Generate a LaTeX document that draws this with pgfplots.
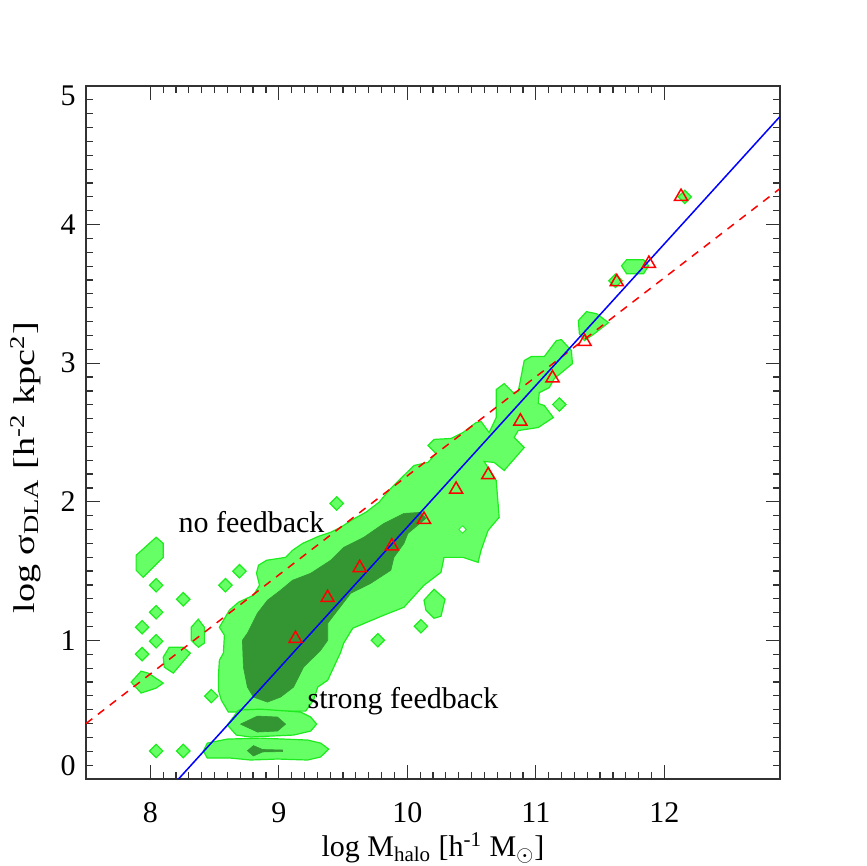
\documentclass[border=0pt]{standalone}
\usepackage{fontspec}
\setmainfont{Liberation Serif}
\usepackage{pgfplots}
\pgfplotsset{compat=1.18}

\definecolor{lgreen}{RGB}{102,255,102}
\definecolor{egreen}{RGB}{30,235,30}
\definecolor{dgreen}{RGB}{51,150,51}
\definecolor{frame}{RGB}{50,50,50}

\pgfplotsset{
  lightc/.style={fill=lgreen, draw=egreen, line width=0.6pt},
  darkc/.style={fill=dgreen, draw=dgreen, line width=0.3pt},
  blob/.style={only marks, mark=square*, mark size=2.37pt,
    mark options={rotate=45, fill=lgreen, draw=egreen, line width=0.6pt}},
}

\begin{document}
\fontsize{15}{18}\selectfont
\begin{tikzpicture}
\path[use as bounding box] (-43pt,-43.5pt) rectangle (390pt,389.5pt);
\begin{axis}[
    scale only axis,
    width=347pt, height=346.5pt,
    xmin=7.5, xmax=12.9,
    ymin=0, ymax=5,
    xtick={8,9,10,11,12},
    ytick={0,1,2,3,4,5},
    yticklabels={\raisebox{6.5pt}[\height][\depth]{0},1,2,3,4,\raisebox{-5pt}[\height][\depth]{5}},
    minor x tick num=9,
    minor y tick num=9,
    tick align=inside,
    tick pos=both,
    xticklabel pos=lower,
    yticklabel pos=left,
    major tick length=7pt,
    minor tick length=3.5pt,
    axis line style={frame, line width=0.7pt},
    tick style={frame, line width=0.6pt},
    /pgf/number format/assume math mode=true,
    xticklabel style={anchor=base, yshift=-21.5pt},
    xlabel={log M\textsubscript{halo} [h\textsuperscript{-1} M\textsubscript{$\odot$}]},
    xlabel style={at={(axis description cs:0.5,0)}, anchor=base, yshift=-38.9pt},
    ylabel={\scalebox{1.27}[1]{log σ\textsubscript{DLA} [h\textsuperscript{-2} kpc\textsuperscript{2}]}},
    ylabel style={at={(axis description cs:-0.087,0.449)}, anchor=center},
]
% outer contour level: main ridge
\addplot[lightc] coordinates {
 (8.608,0.483) (8.553,0.569) (8.530,0.641) (8.530,0.735) (8.538,0.857)
 (8.569,0.908) (8.577,1.037) (8.538,1.095) (8.616,1.218) (8.686,1.275)
 (8.803,1.326) (8.850,1.398) (8.827,1.484) (8.842,1.542) (8.905,1.578)
 (9.053,1.599) (9.107,1.650) (9.186,1.700) (9.310,1.751) (9.404,1.780)
 (9.482,1.816) (9.576,1.873) (9.677,1.924) (9.779,1.996) (9.872,2.097)
 (10.052,2.262) (10.161,2.284) (10.223,2.349) (10.161,2.406) (10.208,2.450)
 (10.340,2.457) (10.434,2.500) (10.535,2.572) (10.574,2.579) (10.637,2.500)
 (10.692,2.608) (10.692,2.810) (10.754,2.853) (10.824,2.788) (10.863,2.795)
 (10.910,3.019) (10.965,3.048) (11.066,3.048) (11.160,3.163) (11.199,3.170)
 (11.277,3.091) (11.285,2.997) (11.144,2.889) (11.105,2.824) (11.027,2.788)
 (11.019,2.709) (11.066,2.695) (11.136,2.608) (11.019,2.536) (10.863,2.514)
 (10.832,2.464) (10.910,2.392) (10.754,2.226) (10.676,2.284) (10.598,2.291)
 (10.692,2.154) (10.715,1.888) (10.629,1.794) (10.574,1.650) (10.551,1.563)
 (10.434,1.599) (10.286,1.599) (10.262,1.491) (10.130,1.398) (9.974,1.239)
 (9.818,1.182) (9.576,1.088) (9.505,0.980) (9.482,0.915) (9.381,0.713)
 (9.303,0.663) (9.271,0.569) (9.209,0.490)
} -- cycle;
% low bands
\addplot[lightc] coordinates {
 (8.600,0.389) (8.686,0.497) (8.858,0.504) (9.170,0.483) (9.248,0.447)
 (9.295,0.396) (9.248,0.346) (9.115,0.317) (8.780,0.303) (8.670,0.317)
} -- cycle;
\addplot[lightc] coordinates {
 (8.413,0.202) (8.444,0.259) (8.600,0.288) (8.858,0.295) (9.225,0.281)
 (9.326,0.259) (9.388,0.216) (9.326,0.159) (9.225,0.137) (8.990,0.144)
 (8.780,0.137) (8.624,0.151) (8.444,0.151)
} -- cycle;
% isolated patches
\addplot[lightc] coordinates {
 (7.890,1.614) (8.046,1.744) (8.101,1.700) (8.101,1.599) (7.945,1.455) (7.890,1.506)
} -- cycle;
\addplot[lightc] coordinates {
 (8.319,1.095) (8.374,1.153) (8.421,1.095) (8.421,0.980) (8.374,0.951) (8.319,1.001)
} -- cycle;
\addplot[lightc] coordinates {
 (8.101,0.879) (8.148,0.951) (8.257,0.951) (8.312,0.908) (8.179,0.764) (8.109,0.807)
} -- cycle;
\addplot[lightc] coordinates {
 (7.851,0.699) (7.929,0.778) (7.984,0.764) (8.101,0.692) (8.046,0.656) (7.929,0.620)
} -- cycle;
\addplot[lightc] coordinates {
 (10.130,1.290) (10.208,1.369) (10.294,1.297) (10.262,1.174) (10.208,1.160) (10.145,1.218)
} -- cycle;
\addplot[lightc] coordinates {
 (11.331,3.307) (11.394,3.372) (11.472,3.357) (11.566,3.293) (11.456,3.213)
 (11.378,3.163) (11.339,3.213)
} -- cycle;
\addplot[lightc] coordinates {
 (11.667,3.703) (11.706,3.746) (11.839,3.746) (11.878,3.703) (11.839,3.646) (11.706,3.646)
} -- cycle;
% single cells
\addplot[blob] coordinates {
 (8.046,1.398) (8.257,1.297) (8.046,1.203) (7.937,1.095) (8.046,0.994)
 (7.937,0.901) (8.585,1.398) (8.694,1.499) (8.475,0.598) (8.046,0.202)
 (8.257,0.202) (9.451,1.988) (9.771,1.001) (10.106,1.102) (11.183,2.702)
 (11.620,3.595) (12.159,4.200)
};
\addplot[only marks, mark=square*, mark size=1.3pt,
  mark options={rotate=45, fill=white, draw=egreen, line width=0.4pt}]
  coordinates {(10.43,1.80)};
% inner contour level
\addplot[darkc] coordinates {
 (8.717,1.001) (8.756,1.052) (8.834,1.196) (8.912,1.290) (9.014,1.362)
 (9.107,1.434) (9.248,1.484) (9.404,1.578) (9.505,1.671) (9.662,1.744)
 (9.818,1.844) (9.974,1.916) (10.106,1.924) (10.145,1.880) (10.005,1.772)
 (9.974,1.700) (9.896,1.599) (9.872,1.506) (9.716,1.412) (9.560,1.340)
 (9.459,1.218) (9.381,1.124) (9.381,1.001) (9.326,0.929) (9.193,0.807)
 (9.115,0.663) (9.014,0.591) (8.912,0.555) (8.803,0.591) (8.756,0.663)
 (8.725,0.807)
} -- cycle;
\addplot[darkc] coordinates {
 (8.702,0.396) (8.834,0.454) (8.990,0.447) (9.053,0.396) (8.990,0.346) (8.834,0.339)
} -- cycle;
\addplot[darkc] coordinates {
 (8.756,0.204) (8.803,0.241) (8.873,0.213) (9.029,0.209) (9.029,0.198)
 (8.873,0.195) (8.803,0.166)
} -- cycle;
% fits
\addplot[red, line width=0.75pt, dash pattern=on 4pt off 3.5pt] coordinates {(7.5,0.40) (12.9,4.26)};
\addplot[blue, line width=0.75pt] coordinates {(8.22,0) (12.9,4.78)};
% binned medians
\addplot[only marks, mark=triangle, mark size=3.75pt,
  mark options={red, line width=0.75pt}] coordinates {
 (9.13,1.012) (9.38,1.308) (9.63,1.524) (9.88,1.680) (10.13,1.872)
 (10.38,2.089) (10.63,2.194) (10.88,2.581) (11.13,2.893) (11.38,3.155)
 (11.63,3.587) (11.88,3.719) (12.13,4.202)
};
\node[anchor=base west, inner sep=0pt] at (axis cs:8.218,1.782) {no feedback};
\node[anchor=base west, inner sep=0pt] at (axis cs:9.222,0.512) {strong feedback};
\end{axis}
\end{tikzpicture}
\end{document}
